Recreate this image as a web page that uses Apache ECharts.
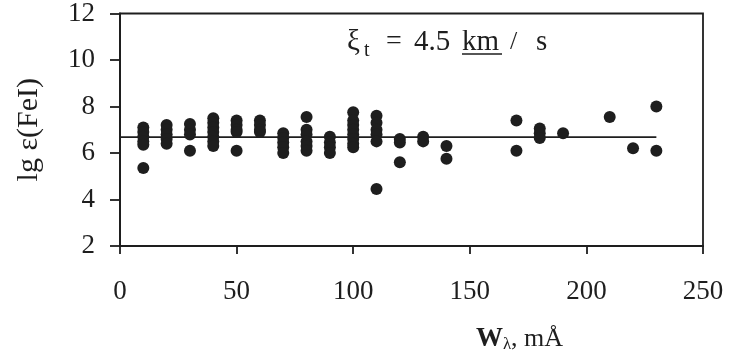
<!DOCTYPE html>
<html>
<head>
<meta charset="utf-8">
<script src="https://cdn.jsdelivr.net/npm/echarts@6/dist/echarts.min.js"></script>
<style>
html,body{margin:0;padding:0;background:#fff;}
#chart{width:729px;height:358px;}
</style>
</head>
<body>
<div id="chart"></div>
<script>
// Equivalent widths (mÅ) of individual Fe I lines
const wLambda = [
  10,10,10,10,10,10,
  20,20,20,20,20,
  30,30,30,30,
  40,40,40,40,40,40,40,
  50,50,50,50,50,
  60,60,60,60,
  70,70,70,70,70,
  80,80,80,80,80,80,
  90,90,90,90,
  100,100,100,100,100,100,100,100,
  110,110,110,110,110,110,
  120,120,120,
  130,130,
  140,140,
  170,170,
  180,180,180,
  190,
  210,
  220,
  230,230
];
// Abundance lg eps(FeI) for each line
const lgEps = [
  7.1,6.9,6.7,6.5,6.35,5.35,
  7.2,7.0,6.8,6.6,6.4,
  7.25,7.0,6.8,6.1,
  7.5,7.3,7.1,6.9,6.7,6.5,6.3,
  7.4,7.2,7.0,6.9,6.1,
  7.4,7.2,7.0,6.9,
  6.85,6.65,6.45,6.25,6.0,
  7.55,7.0,6.8,6.5,6.3,6.1,
  6.7,6.45,6.25,6.0,
  7.75,7.4,7.2,7.0,6.8,6.6,6.4,6.25,
  7.6,7.3,7.0,6.8,6.5,4.45,
  6.6,6.45,5.6,
  6.7,6.5,
  6.3,5.75,
  7.4,6.1,
  7.05,6.85,6.65,
  6.85,
  7.55,
  6.2,
  8.0,6.1
];
const meanLevel = 6.68;
const meanRange = [0, 230];
const xTicks = [0, 50, 100, 150, 200, 250];
const yTicks = [2, 4, 6, 8, 10, 12];

const points = wLambda.map((w, i) => [w, lgEps[i]]);
const meanLine = meanRange.map(x => [x, meanLevel]);

const serif = '"Liberation Serif","DejaVu Serif",serif';
const ink = '#1e1e1e';

function txt(x, y, s, size) {
  return {
    type: 'text', x: x, y: y,
    style: {text: s, fontFamily: serif, fontSize: size, fill: ink, textVerticalAlign: 'middle'}
  };
}

const chart = echarts.init(document.getElementById('chart'));
chart.setOption({
  animation: false,
  backgroundColor: '#fff',
  grid: {left: 120, right: 26, top: 12, bottom: 111, show: true, borderColor: ink, borderWidth: 1.8, backgroundColor: 'transparent'},
  xAxis: {
    type: 'value', min: xTicks[0], max: xTicks[xTicks.length - 1], interval: 50,
    splitLine: {show: false},
    axisLine: {lineStyle: {color: ink, width: 2}},
    axisTick: {show: true, inside: false, length: 8, lineStyle: {color: ink, width: 1.8}},
    axisLabel: {color: ink, fontFamily: serif, fontSize: 27, margin: 32},
    name: '{w|W}{l|λ}{t|, mÅ}',
    nameLocation: 'middle',
    nameGap: 80,
    nameTextStyle: {
      padding: [0, 0, 0, 216],
      rich: {
        w: {fontFamily: serif, fontSize: 27, fontWeight: 'bold', color: ink},
        l: {fontFamily: serif, fontSize: 17, color: ink, verticalAlign: 'bottom', padding: [10, 0, 0, 0]},
        t: {fontFamily: serif, fontSize: 26, color: ink}
      }
    }
  },
  yAxis: {
    type: 'value', min: yTicks[0], max: yTicks[yTicks.length - 1], interval: 2,
    splitLine: {show: false},
    axisLine: {show: true, lineStyle: {color: ink, width: 2}},
    axisTick: {show: true, inside: false, length: 10, lineStyle: {color: ink, width: 1.8}},
    axisLabel: {color: ink, fontFamily: serif, fontSize: 27, margin: 25, padding: [8, 0, 0, 0]},
    name: 'lg ε(FeI)',
    nameLocation: 'middle',
    nameGap: 76,
    nameTextStyle: {fontFamily: serif, fontSize: 30, color: ink}
  },
  series: [
    {
      type: 'line', data: meanLine, symbol: 'none',
      lineStyle: {color: ink, width: 1.8}, z: 2
    },
    {
      type: 'scatter', data: points, symbol: 'circle', symbolSize: 12,
      itemStyle: {color: ink, opacity: 1}, z: 3
    }
  ],
  graphic: [
    txt(347, 42, 'ξ', 29),
    txt(364, 51, 't', 20),
    txt(386, 42, '=', 28),
    txt(414, 42, '4.5', 29),
    txt(462, 42, 'km', 29),
    txt(510, 42, '/', 26),
    txt(536, 42, 's', 29),
    {type: 'line', shape: {x1: 462, y1: 54, x2: 502, y2: 54}, style: {stroke: ink, lineWidth: 1.5}}
  ]
});
</script>
</body>
</html>
